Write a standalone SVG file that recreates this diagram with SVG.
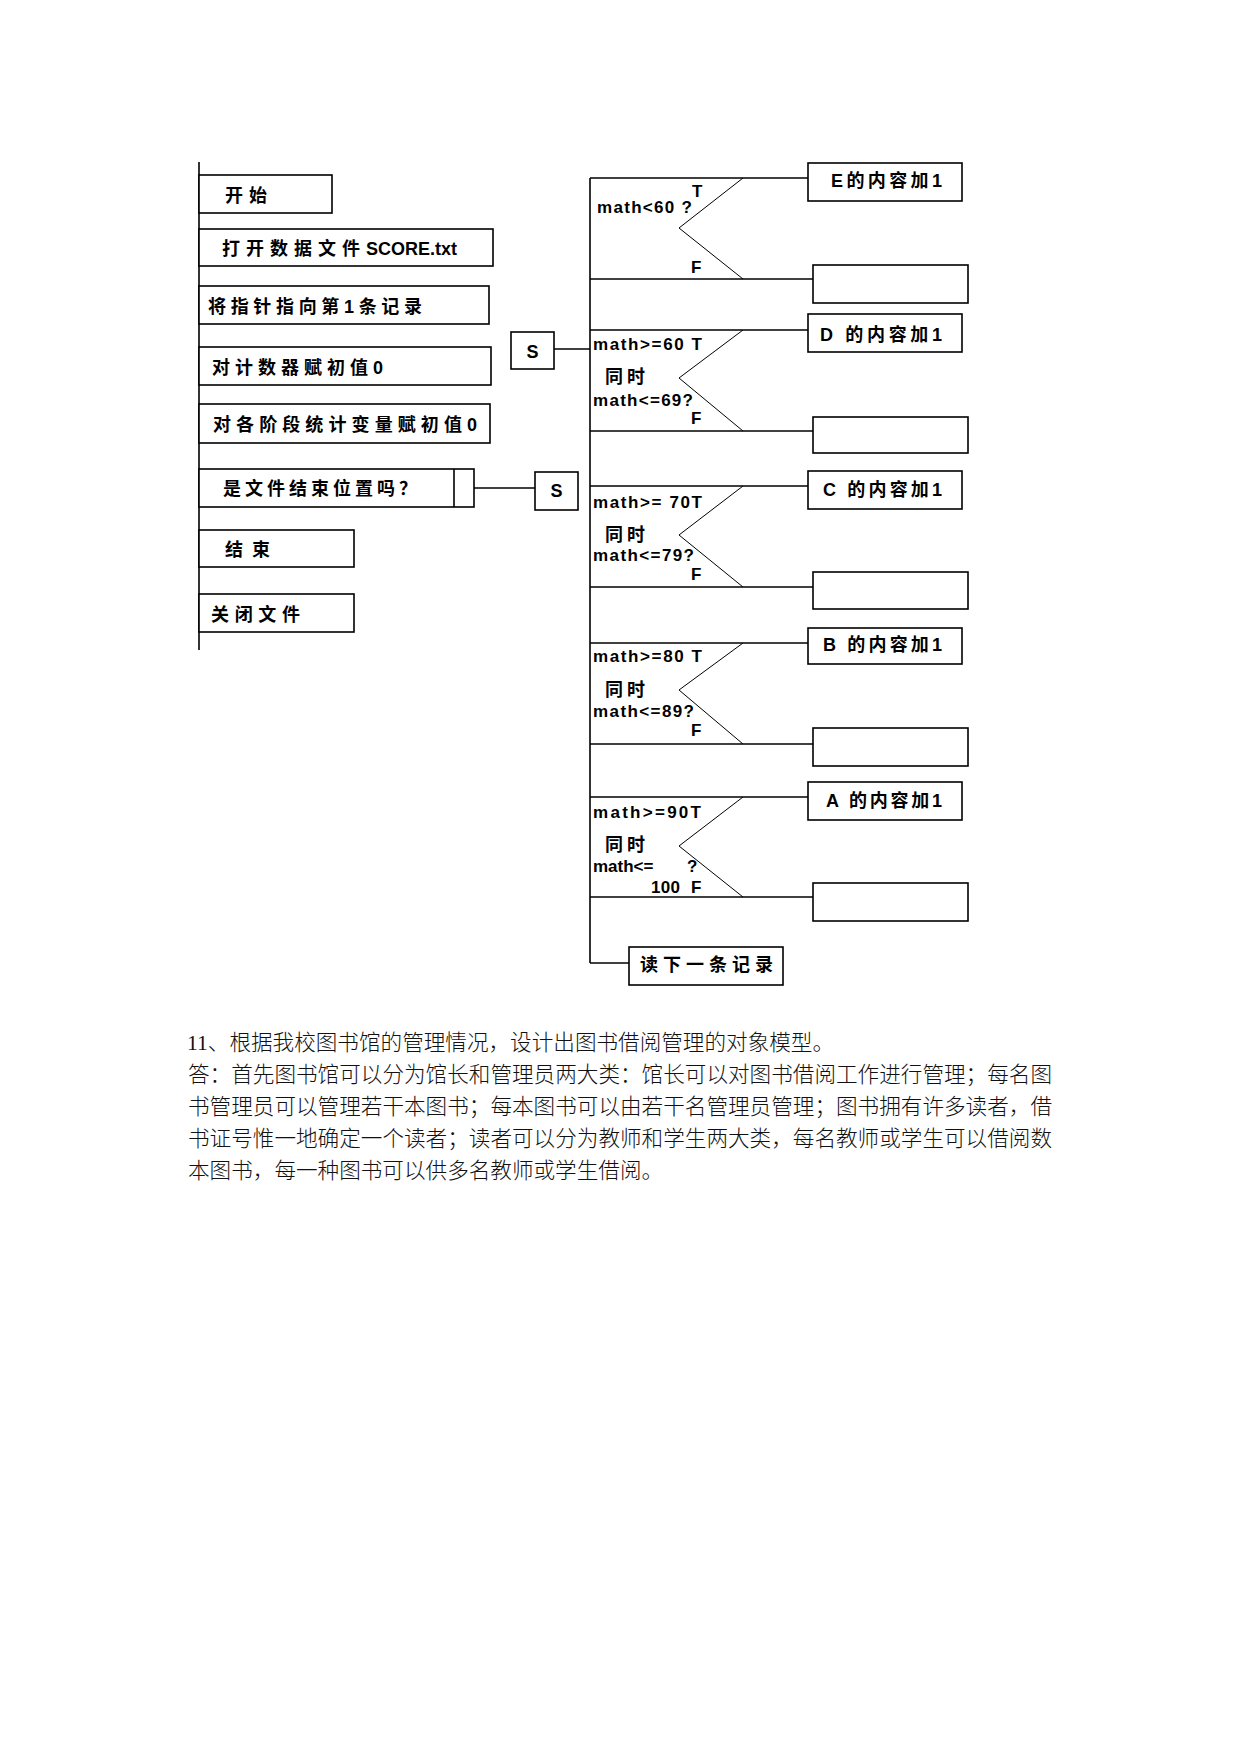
<svg xmlns="http://www.w3.org/2000/svg" width="1241" height="1754" viewBox="0 0 1241 1754">
<style>
  .bx { fill: #fff; stroke: #000; stroke-width: 1.6; }
  .ln { fill: none; stroke: #000; stroke-width: 1.6; }
  .dg { fill: none; stroke: #000; stroke-width: 1; }
  .t { font-family: "Liberation Sans", "Noto Sans CJK SC", sans-serif; font-weight: bold; font-size: 18px; fill: #000; }
  .m { font-family: "Liberation Sans", "Noto Sans CJK SC", sans-serif; font-weight: bold; font-size: 17px; fill: #000; }
  .p { font-family: "Liberation Serif", "Noto Sans CJK SC", serif; font-size: 21.6px; font-weight: 300; fill: #111; }
</style>
<rect x="0" y="0" width="1241" height="1754" fill="#fff"/>

<g id="connectors">
  <line class="ln" x1="199" y1="162" x2="199" y2="650"/>
  <line class="ln" x1="590" y1="178" x2="590" y2="963"/>
  <line class="ln" x1="590" y1="963" x2="629" y2="963"/>
  <line class="ln" x1="554" y1="349" x2="590" y2="349"/>
  <line class="ln" x1="474" y1="488" x2="535" y2="488"/>
  <!-- E -->
  <line class="ln" x1="590" y1="178" x2="808" y2="178"/>
  <line class="ln" x1="590" y1="279" x2="813" y2="279"/>
  <polyline class="dg" points="743,178 679,228 743,279"/>
  <!-- D -->
  <line class="ln" x1="590" y1="330" x2="808" y2="330"/>
  <line class="ln" x1="590" y1="431" x2="813" y2="431"/>
  <polyline class="dg" points="743,330 679,378 743,431"/>
  <!-- C -->
  <line class="ln" x1="590" y1="486" x2="808" y2="486"/>
  <line class="ln" x1="590" y1="587" x2="813" y2="587"/>
  <polyline class="dg" points="743,486 679,535 743,587"/>
  <!-- B -->
  <line class="ln" x1="590" y1="643" x2="808" y2="643"/>
  <line class="ln" x1="590" y1="744" x2="813" y2="744"/>
  <polyline class="dg" points="743,643 679,690 743,744"/>
  <!-- A -->
  <line class="ln" x1="590" y1="797" x2="808" y2="797"/>
  <line class="ln" x1="590" y1="897" x2="813" y2="897"/>
  <polyline class="dg" points="743,797 679,846 743,897"/>
</g>

<g id="n-start">
  <rect class="bx" x="199" y="175" width="133" height="38"/>
  <text class="t" x="225" y="202" textLength="42" lengthAdjust="spacing">开始</text>
</g>
<g id="n-open">
  <rect class="bx" x="199" y="229" width="294" height="37"/>
  <text class="t" x="222" y="255" textLength="138" lengthAdjust="spacing">打开数据文件</text>
  <text class="t" x="366" y="255" textLength="91" lengthAdjust="spacingAndGlyphs">SCORE.txt</text>
</g>
<g id="n-pointer">
  <rect class="bx" x="199" y="286" width="290" height="38"/>
  <text class="t" x="208" y="313" textLength="214" lengthAdjust="spacing">将指针指向第1条记录</text>
</g>
<g id="n-counter">
  <rect class="bx" x="199" y="347" width="292" height="38"/>
  <text class="t" x="212" y="374" textLength="171" lengthAdjust="spacing">对计数器赋初值0</text>
</g>
<g id="n-stage">
  <rect class="bx" x="199" y="404" width="291" height="39"/>
  <text class="t" x="213" y="431" textLength="264" lengthAdjust="spacing">对各阶段统计变量赋初值0</text>
</g>
<g id="n-eof">
  <rect class="bx" x="199" y="469" width="275" height="38"/>
  <line class="ln" x1="454" y1="469" x2="454" y2="507"/>
  <text class="t" x="223" y="495" textLength="194" lengthAdjust="spacing">是文件结束位置吗？</text>
</g>
<g id="n-end">
  <rect class="bx" x="199" y="530" width="155" height="37"/>
  <text class="t" x="225" y="556" textLength="45" lengthAdjust="spacing">结束</text>
</g>
<g id="n-close">
  <rect class="bx" x="199" y="594" width="155" height="38"/>
  <text class="t" x="211" y="621" textLength="89" lengthAdjust="spacing">关闭文件</text>
</g>

<g id="n-s1">
  <rect class="bx" x="511" y="332" width="43" height="37"/>
  <text class="t" x="532.5" y="358" text-anchor="middle">S</text>
</g>
<g id="n-s2">
  <rect class="bx" x="535" y="472" width="43" height="38"/>
  <text class="t" x="556.5" y="497" text-anchor="middle">S</text>
</g>

<g id="n-condE">
  <text class="m" x="597" y="213" textLength="95" lengthAdjust="spacing">math&lt;60 ?</text>
  <text class="m" x="692" y="197">T</text>
  <text class="m" x="691" y="273">F</text>
</g>
<g id="n-E">
  <rect class="bx" x="808" y="163" width="154" height="38"/>
  <text class="t" x="831" y="187" textLength="111" lengthAdjust="spacing">E的内容加1</text>
</g>
<g id="n-Eno"><rect class="bx" x="813" y="265" width="155" height="38"/></g>

<g id="n-condD">
  <text class="m" x="593" y="350" textLength="109" lengthAdjust="spacing">math&gt;=60 T</text>
  <text class="t" x="605" y="383" textLength="40" lengthAdjust="spacing">同时</text>
  <text class="m" x="593" y="406" textLength="100" lengthAdjust="spacing">math&lt;=69?</text>
  <text class="m" x="691" y="424">F</text>
</g>
<g id="n-D">
  <rect class="bx" x="808" y="314" width="154" height="38"/>
  <text class="t" x="820" y="341" textLength="122" lengthAdjust="spacing">D 的内容加1</text>
</g>
<g id="n-Dno"><rect class="bx" x="813" y="417" width="155" height="36"/></g>

<g id="n-condC">
  <text class="m" x="593" y="508" textLength="109" lengthAdjust="spacing">math&gt;= 70T</text>
  <text class="t" x="605" y="541" textLength="40" lengthAdjust="spacing">同时</text>
  <text class="m" x="593" y="561" textLength="101" lengthAdjust="spacing">math&lt;=79?</text>
  <text class="m" x="691" y="580">F</text>
</g>
<g id="n-C">
  <rect class="bx" x="808" y="471" width="154" height="38"/>
  <text class="t" x="823" y="496" textLength="119" lengthAdjust="spacing">C 的内容加1</text>
</g>
<g id="n-Cno"><rect class="bx" x="813" y="572" width="155" height="37"/></g>

<g id="n-condB">
  <text class="m" x="593" y="662" textLength="109" lengthAdjust="spacing">math&gt;=80 T</text>
  <text class="t" x="605" y="696" textLength="40" lengthAdjust="spacing">同时</text>
  <text class="m" x="593" y="717" textLength="101" lengthAdjust="spacing">math&lt;=89?</text>
  <text class="m" x="691" y="736">F</text>
</g>
<g id="n-B">
  <rect class="bx" x="808" y="628" width="154" height="36"/>
  <text class="t" x="823" y="651" textLength="119" lengthAdjust="spacing">B 的内容加1</text>
</g>
<g id="n-Bno"><rect class="bx" x="813" y="728" width="155" height="38"/></g>

<g id="n-condA">
  <text class="m" x="593" y="818" textLength="108" lengthAdjust="spacing">math&gt;=90T</text>
  <text class="t" x="605" y="851" textLength="40" lengthAdjust="spacing">同时</text>
  <text class="m" x="593" y="872">math&lt;=</text>
  <text class="m" x="687" y="872">?</text>
  <text class="m" x="651" y="893" textLength="29" lengthAdjust="spacing">100</text>
  <text class="m" x="691" y="893">F</text>
</g>
<g id="n-A">
  <rect class="bx" x="808" y="782" width="154" height="38"/>
  <text class="t" x="826" y="807" textLength="116" lengthAdjust="spacing">A 的内容加1</text>
</g>
<g id="n-Ano"><rect class="bx" x="813" y="883" width="155" height="38"/></g>

<g id="n-next">
  <rect class="bx" x="629" y="947" width="154" height="38"/>
  <text class="t" x="640" y="971" textLength="133" lengthAdjust="spacing">读下一条记录</text>
</g>

<g id="paragraph">
  <text class="p" x="187" y="1050">11、根据我校图书馆的管理情况，设计出图书借阅管理的对象模型。</text>
  <text class="p" x="188" y="1082" textLength="864" lengthAdjust="spacing">答：首先图书馆可以分为馆长和管理员两大类：馆长可以对图书借阅工作进行管理；每名图</text>
  <text class="p" x="188" y="1114" textLength="864" lengthAdjust="spacing">书管理员可以管理若干本图书；每本图书可以由若干名管理员管理；图书拥有许多读者，借</text>
  <text class="p" x="188" y="1146" textLength="864" lengthAdjust="spacing">书证号惟一地确定一个读者；读者可以分为教师和学生两大类，每名教师或学生可以借阅数</text>
  <text class="p" x="188" y="1178">本图书，每一种图书可以供多名教师或学生借阅。</text>
</g>
</svg>
